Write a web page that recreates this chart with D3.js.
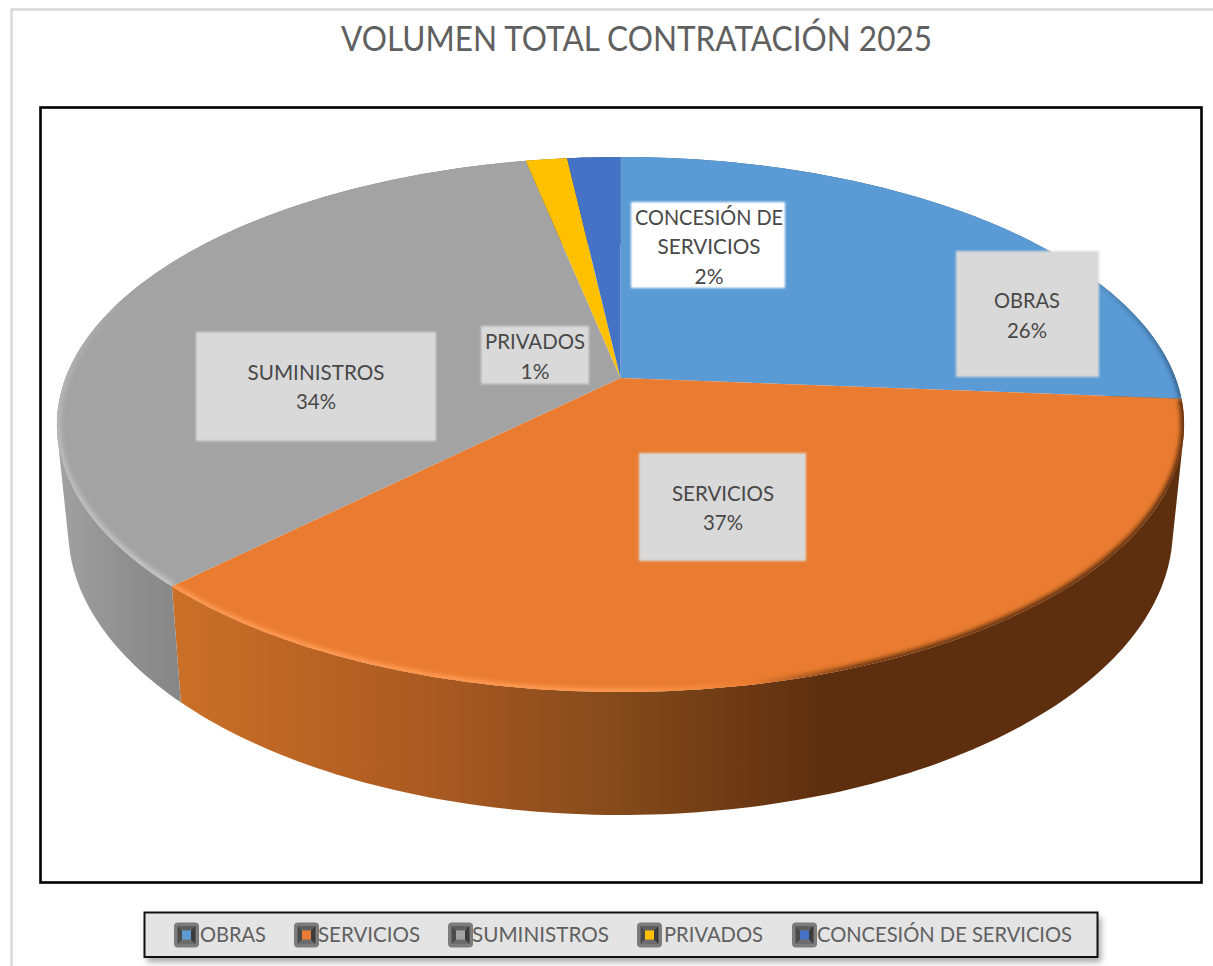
<!DOCTYPE html>
<html><head><meta charset="utf-8">
<script src="https://cdn.jsdelivr.net/npm/d3@7"></script>
<style>html,body{margin:0;padding:0;background:#fff;overflow:hidden}svg{display:block}text{font-family:Lato,"Noto Sans",sans-serif}</style>
</head><body><svg id="c" width="1213" height="966"></svg>
<script>
const titleText = "VOLUMEN TOTAL CONTRATACIÓN 2025";
const categories = ["OBRAS","SERVICIOS","SUMINISTROS","PRIVADOS","CONCESIÓN DE SERVICIOS"];
const values = [26.25,36.3,34.25,1.4,1.8];
const percentLabels = ["26%","37%","34%","1%","2%"];
const colors = ["#5b9bd5","#e97c30","#a3a3a3","#ffc000","#4472c4"];

const svg = d3.select("#c"), defs = svg.append("defs");
// perspective disc
const cx=620.5, R=555, k=0.1738, b=259.4, topY=378, botY=480, botSX=.98, botSY=1.067;
const project=(a,sx,sy,y0,r=1)=>{const x=Math.sin(a)*r,y=-Math.cos(a)*r,w=1-k*y;return [cx+sx*R*x/w,y0+sy*b*y/w];};
const topPt=a=>project(a,1,1,topY), botPt=a=>project(a,botSX,botSY,botY);
const line=d3.line();
const steps=(a0,a1,deg=1)=>{const n=Math.max(2,Math.ceil((a1-a0)/(deg*Math.PI/180)));return d3.range(n+1).map(i=>a0+(a1-a0)*i/n);};
const slices=d3.pie().sort(null).value(d=>d)(values);

// filters and gradients
const mkBlur=(id,s)=>defs.append("filter").attr("id",id).attr("filterUnits","userSpaceOnUse").attr("x",0).attr("y",0).attr("width",1213).attr("height",966)
  .append("feGaussianBlur").attr("stdDeviation",s);
mkBlur("soft",1.1); mkBlur("rimBlur",2); mkBlur("shadow",3); mkBlur("tiny",.45);
const grad=(id,x1,y1,x2,y2,stops)=>{const g=defs.append("linearGradient").attr("id",id).attr("gradientUnits","userSpaceOnUse")
  .attr("x1",x1).attr("y1",y1).attr("x2",x2).attr("y2",y2);
  stops.forEach(s=>g.append("stop").attr("offset",s[0]).attr("stop-color",s[1]).attr("stop-opacity",s[2]===undefined?1:s[2]));return `url(#${id})`;};
const sideFill=[
  grad("s0",900,0,1190,0,[[0,"#33597c"],[1,"#33597c"]]),
  grad("s1",173,0,1184,0,[[0,"#cb7028"],[.25,"#ab5a22"],[.44,"#844a1b"],[.64,"#5e2f0f"],[1,"#5e2f0f"]]),
  grad("s2",57,0,182,0,[[0,"#a2a2a2"],[.5,"#919191"],[1,"#868686"]]),
  "#7a6010","#2f4f88"];
const rimStroke=[
  grad("r0",1040,0,1184,0,[[0,"#4f86b8",0],[.65,"#3f709e",.75],[1,"#2f5a85",1]]),
  grad("r1",173,0,1184,0,[[0,"#ff9a52"],[.45,"#ff9a52"],[.57,"#ed7d31"],[.68,"#6a3610"],[1,"#5e2f0f"]]),
  grad("r2",0,300,0,590,[[0,"#cfcfcf",0],[.4,"#c4c4c4",.65],[1,"#c8c8c8",.9]]),
  "none","none"];

// chart frame
svg.append("path").attr("d","M11.5,966V9.5H1213").attr("fill","none").attr("stroke","#d9d9d9").attr("stroke-width",2.5);

// title
const fitText=(sel,w)=>sel.attr("textLength",w).attr("lengthAdjust","spacingAndGlyphs");
svg.append("text").attr("x",636.5).attr("y",51).attr("text-anchor","middle").attr("font-size",35).attr("fill","#606060")
  .text(titleText).call(fitText,591);

// plot frame
svg.append("rect").attr("x",40.5).attr("y",107.5).attr("width",1161).attr("height",775).attr("fill","#fff").attr("stroke","#000").attr("stroke-width",2.6);

// pie sides: one path per slice, every strip wound the same way so no seams show
const sides=svg.append("g");
const strip=([p,q])=>{const pts=[topPt(p),topPt(q),botPt(q),botPt(p)];
  return line(d3.polygonArea(pts)<0?pts.reverse():pts)+"Z";};
slices.forEach((s,i)=>{
  const as=steps(s.startAngle,s.endAngle);
  sides.append("path").attr("d",as.slice(1).map((a,j)=>strip([as[j],a])).join(""))
    .attr("fill",sideFill[i]).attr("fill-rule","nonzero");
});

// pie top
const slicePath=s=>line([[cx,topY],...steps(s.startAngle,s.endAngle).map(topPt)])+"Z";
const topG=svg.append("g");
slices.forEach((s,i)=>{
  defs.append("clipPath").attr("id","clip"+i).append("path").attr("d",slicePath(s));
  topG.append("path").attr("d",slicePath(s)).attr("fill",colors[i]);
  if(rimStroke[i]!=="none"){
    topG.append("g").attr("clip-path",`url(#clip${i})`).append("path")
      .attr("d",line(steps(s.startAngle,s.endAngle).map(topPt))).attr("fill","none")
      .attr("stroke",rimStroke[i]).attr("stroke-width",i===1?7:i===0?5:8).attr("filter","url(#rimBlur)");
  }
});

// data labels
const lab=svg.append("g");
const labelBoxes=[[956,251,143,126],[639,453,167,108],[196,332,240,109],[481,326,108,58],[631,202,154,86]];
const labelLines=[[categories[0]],[categories[1]],[categories[2]],[categories[3]],["CONCESIÓN DE","SERVICIOS"]];
const labelWidths=[[66],[102],[137],[100],[148,103]];
const labelPctX=[1027,723,316,535,709];
const labelY=[[308,338],[501,530],[380,409],[349,379],[225,254,284]];
const pctW=[40,40,40,29,29];
labelBoxes.forEach((r,i)=>{
  lab.append("rect").attr("x",r[0]).attr("y",r[1]).attr("width",r[2]).attr("height",r[3])
    .attr("fill",i===4?"#fff":"#d9d9d9").attr("filter","url(#soft)");
  const lines=labelLines[i].concat(percentLabels[i]);
  lines.forEach((t,j)=>{
    const w=j<labelWidths[i].length?labelWidths[i][j]:pctW[i];
    lab.append("text").attr("x",labelPctX[i]).attr("y",labelY[i][j]).attr("text-anchor","middle")
      .attr("font-size",21).attr("fill","#484848").text(t).call(fitText,w);
  });
});

// legend
const lg=svg.append("g");
lg.append("rect").attr("x",147).attr("y",917).attr("width",954).attr("height",45).attr("fill","#888").attr("opacity",.75).attr("filter","url(#shadow)");
lg.append("rect").attr("x",144.5).attr("y",912.5).attr("width",953).attr("height",44.5).attr("fill","#e4e4e4").attr("stroke","#111").attr("stroke-width",2);
const legendMarkerX=[174,294,448,637,792], legendTextX=[200,318,472,664,817], legendTextW=[66,102,137,99,255];
categories.forEach((c,i)=>{
  const x=legendMarkerX[i],y=922.5,g=lg.append("g").attr("filter","url(#tiny)");
  g.append("rect").attr("x",x).attr("y",y).attr("width",25).attr("height",25).attr("rx",4).attr("fill","#7c7c7c");
  const a=x+3.5,e=x+21.5,t=y+3.5,u=y+21.5,ia=x+8,ie=x+17,it=y+8,iu=y+17;
  const bevel=[[[a,t],[e,t],[ie,it],[ia,it],"#5e5e5e"],[[a,u],[e,u],[ie,iu],[ia,iu],"#6c6c6c"],[[a,t],[ia,it],[ia,iu],[a,u],"#4c4c4c"],[[e,t],[ie,it],[ie,iu],[e,u],"#3a3a3a"]];
  bevel.forEach(q=>g.append("path").attr("d",line(q.slice(0,4))+"Z").attr("fill",q[4]));
  g.append("rect").attr("x",ia).attr("y",it).attr("width",9).attr("height",9).attr("fill",colors[i]);
  lg.append("text").attr("x",legendTextX[i]).attr("y",942).attr("font-size",21).attr("fill","#606060").text(c).call(fitText,legendTextW[i]);
});
</script></body></html>
